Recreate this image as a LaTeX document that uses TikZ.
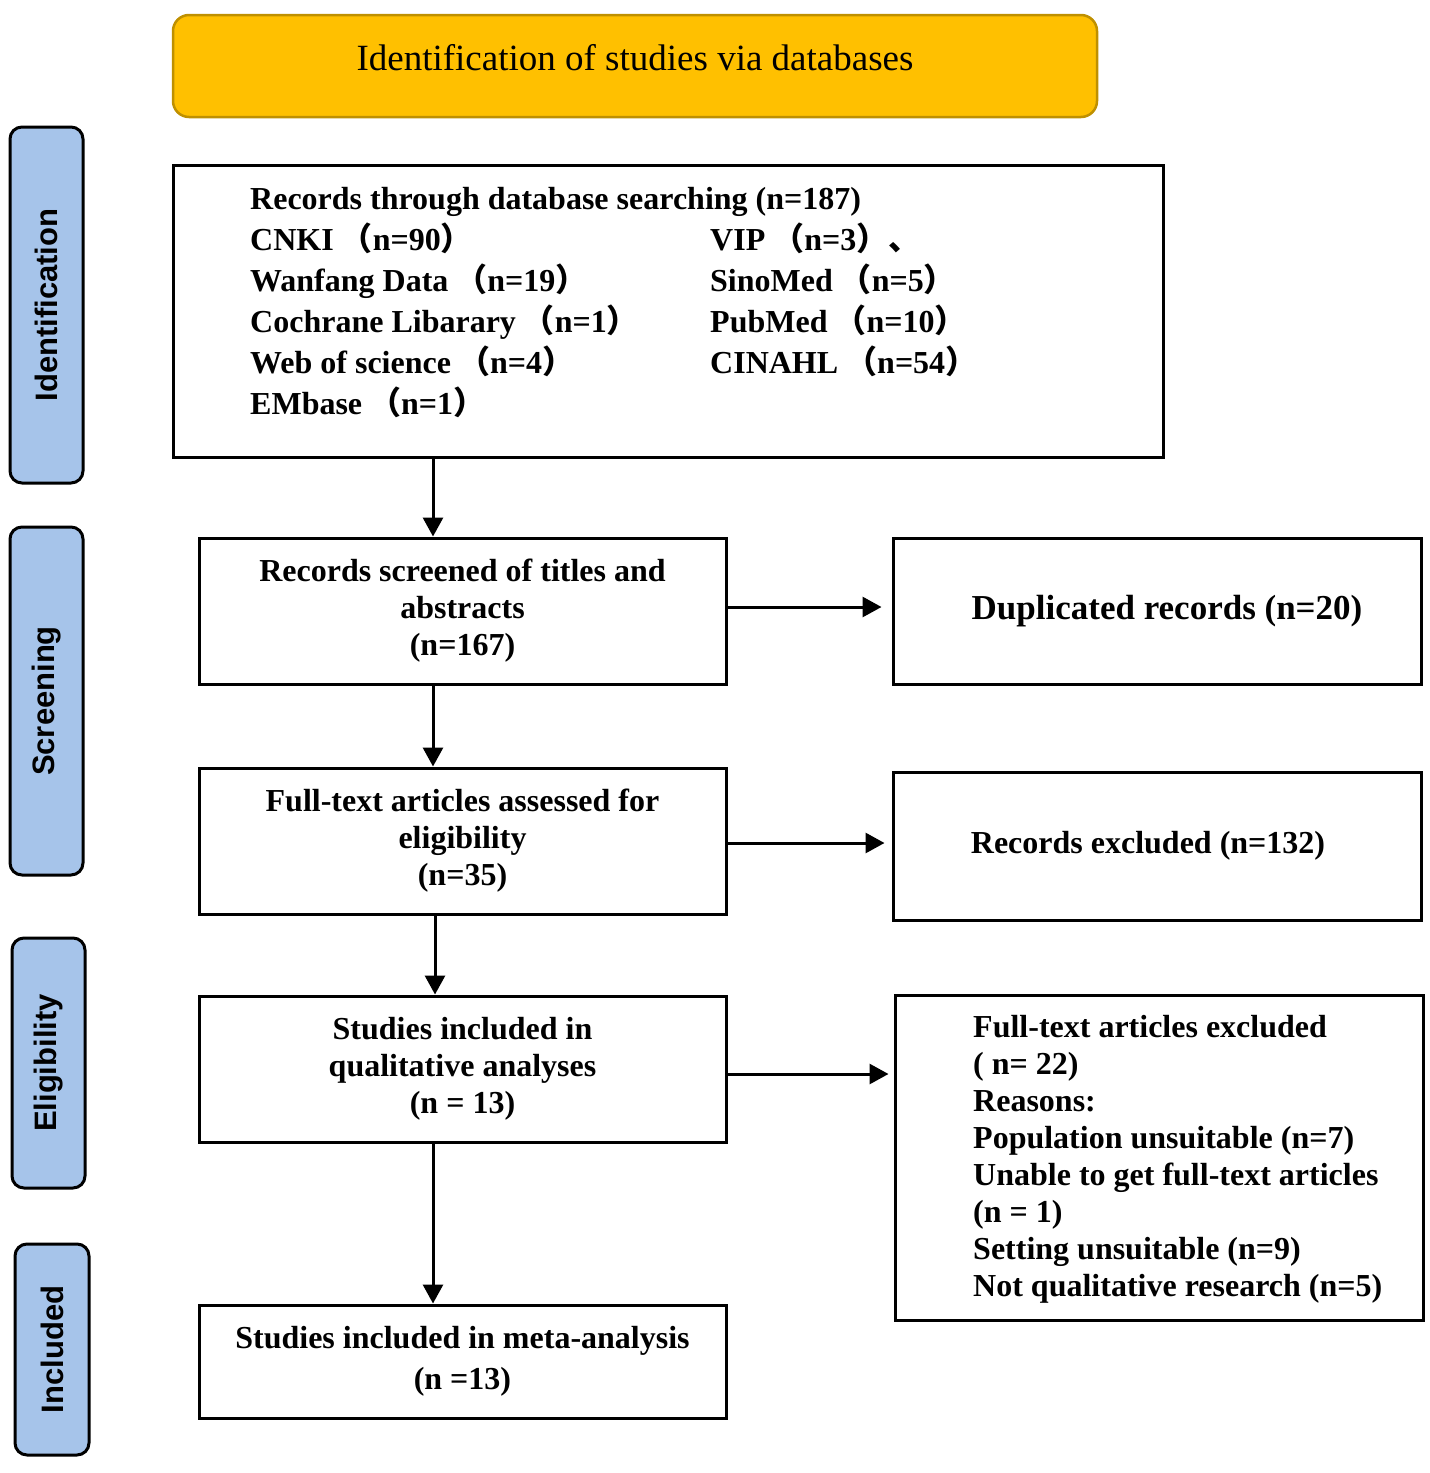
\documentclass[tikz,border=0pt]{standalone}
\usepackage{fontspec}
\setmainfont{Liberation Serif}
\newfontfamily\sidefont{Liberation Sans}
\newfontfamily\cjkfont{Noto Sans CJK SC}
\usetikzlibrary{arrows.meta,calc}
\newcommand\flp{\hspace{7pt}{\cjkfont （}}
\newcommand\frp{{\cjkfont ）}}
\newcommand\fcm{{\cjkfont 、}}
\definecolor{gold}{RGB}{255,192,0}
\definecolor{golddark}{RGB}{191,144,0}
\definecolor{sideblue}{RGB}{166,196,234}
\begin{document}
\begin{tikzpicture}[x=1pt,y=-1pt,
  titlebox/.style={draw=golddark, fill=gold, line width=2.5pt, rounded corners=16pt, inner sep=0pt},
  flowbox/.style={draw=black, line width=3pt, inner sep=0pt, align=center, font=\bfseries\fontsize{32}{37}\selectfont},
  sidebox/.style={draw=black, line width=3pt, rounded corners=12pt, fill=sideblue, rotate=90, inner sep=0pt, font=\sidefont\bfseries\fontsize{31}{36}\selectfont},
  plaintext/.style={inner sep=0pt},
  arr/.style={line width=3pt, -{Triangle[length=19pt,width=20pt]}}]
\useasboundingbox (0,0) rectangle (1430,1473);

% header
\node[titlebox, minimum width=924, minimum height=102] (title) at (635,66) {};
\node[plaintext, font=\fontsize{37}{40}\selectfont] (titletext) at (635,58) {Identification of studies via databases};

% side labels
\node[sidebox, minimum width=356, minimum height=73] (sid) at (46.5,305) {Identification};
\node[sidebox, minimum width=348, minimum height=73] (sscr) at (46.5,701) {Screening};
\node[sidebox, minimum width=250, minimum height=73] (selig) at (48.5,1063) {Eligibility};
\node[sidebox, minimum width=211, minimum height=74] (sinc) at (52,1349.5) {Included};

% records box
\node[flowbox, minimum width=990, minimum height=292] (recs) at (668,311) {};
\node[plaintext, anchor=base west, font=\bfseries\fontsize{32}{41}\selectfont] (recstext) at (250,209)
{\begin{tabular}[t]{@{}p{460pt}@{}l@{}}
\multicolumn{2}{@{}l@{}}{Records through database searching (n=187)}\\
CNKI\flp n=90\frp & VIP\flp n=3\frp\fcm\\
Wanfang Data\flp n=19\frp & SinoMed\flp n=5\frp\\
Cochrane Libarary\flp n=1\frp & PubMed\flp n=10\frp\\
Web of science\flp n=4\frp & CINAHL\flp n=54\frp\\
EMbase\flp n=1\frp &
\end{tabular}};

% main column
\node[flowbox, minimum width=527, minimum height=146] (scr) at (462.5,611) {Records screened of titles and\\abstracts\\(n=167)};
\node[flowbox, minimum width=527, minimum height=146] (full) at (462.5,841) {Full-text articles assessed for\\eligibility\\(n=35)};
\node[flowbox, minimum width=527, minimum height=146] (qual) at (462.5,1069) {Studies included in\\qualitative analyses\\(n = 13)};
\node[flowbox, minimum width=527, minimum height=113, font=\bfseries\fontsize{32}{41}\selectfont] (meta) at (462.5,1361.5) {Studies included in meta-analysis\\(n =13)};

% right column
\node[flowbox, minimum width=528, minimum height=146, font=\bfseries\fontsize{35}{40}\selectfont] (dup) at (1157,611) {\hspace{20pt}Duplicated records (n=20)};
\node[flowbox, minimum width=528, minimum height=148] (excl) at (1157,846) {Records excluded (n=132)\hspace{18pt}};
\node[flowbox, minimum width=528, minimum height=325] (ftex) at (1159,1157.5) {};
\node[plaintext, anchor=west, align=left, font=\bfseries\fontsize{32}{37}\selectfont] (ftextext) at (973,1159)
{Full-text articles excluded\\( n= 22)\\Reasons:\\Population unsuitable (n=7)\\Unable to get full-text articles\\(n = 1)\\Setting unsuitable (n=9)\\Not qualitative research (n=5)};

% arrows
\coordinate (ax) at (433,0);
\coordinate (axb) at (435,0);
\coordinate (ya) at (0,607);
\coordinate (yb) at (0,843);
\coordinate (yc) at (0,1074);
\draw[arr] (recs.south -| ax) -- (scr.north -| ax);
\draw[arr] (scr.south -| ax) -- (full.north -| ax);
\draw[arr] (full.south -| axb) -- (qual.north -| axb);
\draw[arr] (qual.south -| ax) -- (meta.north -| ax);
\draw[arr, shorten >=10pt] (scr.east |- ya) -- (dup.west |- ya);
\draw[arr, shorten >=7pt] (full.east |- yb) -- (excl.west |- yb);
\draw[arr, shorten >=5pt] (qual.east |- yc) -- (ftex.west |- yc);
\end{tikzpicture}
\end{document}
